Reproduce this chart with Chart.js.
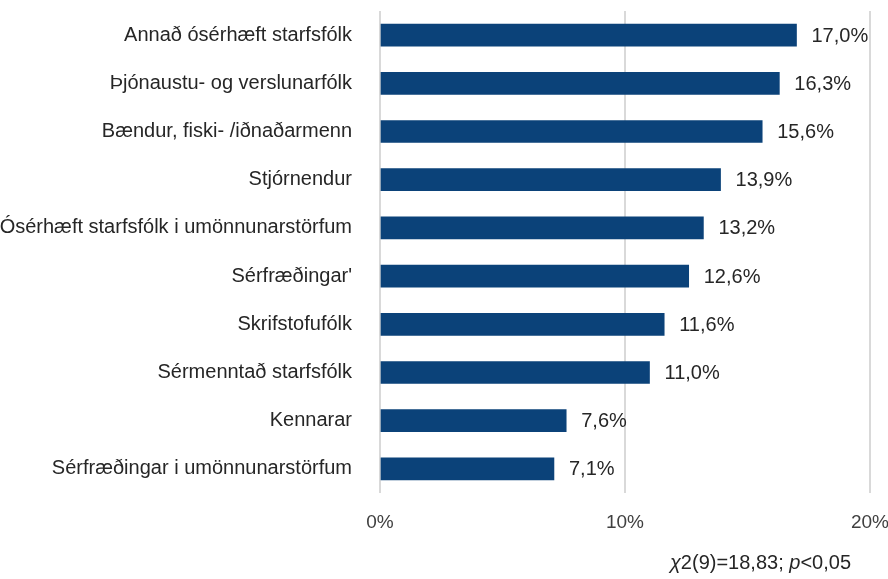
<!DOCTYPE html>
<html>
<head>
<meta charset="utf-8">
<script src="https://cdn.jsdelivr.net/npm/chart.js@4.4.1/dist/chart.umd.min.js"></script>
<style>
  html, body { margin: 0; padding: 0; background: #fff; }
  #wrap { position: relative; width: 888px; height: 579px; }
</style>
</head>
<body>
<div id="wrap"><canvas id="mycanvas"></canvas></div>
<script>
// categories (top to bottom) and shares in %
var occupations = [
    "Annað ósérhæft starfsfólk",
    "Þjónaustu- og verslunarfólk",
    "Bændur, fiski- /iðnaðarmenn",
    "Stjórnendur",
    "Ósérhæft starfsfólk i umönnunarstörfum",
    "Sérfræðingar'",
    "Skrifstofufólk",
    "Sérmenntað starfsfólk",
    "Kennarar",
    "Sérfræðingar i umönnunarstörfum"
];
var share = [17.0, 16.3, 15.6, 13.9, 13.2, 12.6, 11.6, 11.0, 7.6, 7.1];
var xTicks = [0, 10, 20];
var footnote = ["χ", "2(9)=18,83; ", "p", "<0,05"];

var FONT = "'Liberation Sans Narrow', 'Arial Narrow', 'Liberation Sans', Arial, sans-serif";

// draws value labels to the right of each bar, and the chi-square note
var valueLabels = {
    id: "valueLabels",
    afterDatasetsDraw: function(chart) {
        var ctx = chart.ctx;
        var meta = chart.getDatasetMeta(0);
        ctx.save();
        ctx.font = "20px " + FONT;
        ctx.fillStyle = "#262626";
        ctx.textAlign = "left";
        ctx.textBaseline = "middle";
        meta.data.forEach(function(bar, i) {
            var txt = share[i].toFixed(1).replace(".", ",") + "%";
            ctx.fillText(txt, bar.x + 15, bar.y + 1);
        });

        // footnote, right aligned
        var parts = footnote;
        var styles = ["italic ", "", "italic ", ""];
        var total = 0;
        parts.forEach(function(p, i) {
            ctx.font = styles[i] + "20px " + FONT;
            total += ctx.measureText(p).width;
        });
        var x = 851 - total;
        parts.forEach(function(p, i) {
            ctx.font = styles[i] + "20px " + FONT;
            ctx.fillText(p, x, 563);
            x += ctx.measureText(p).width;
        });
        ctx.restore();
    }
};

var ctx = document.getElementById("mycanvas");
var chart = new Chart(ctx, {
    type: "bar",
    data: {
        labels: occupations,
        datasets: [{
            data: share,
            backgroundColor: "#0b4279",
            borderWidth: 0,
            barThickness: 22
        }]
    },
    options: {
        indexAxis: "y",
        responsive: true,
        maintainAspectRatio: false,
        animation: false,
        layout: { padding: { top: 11, right: 18, bottom: 41, left: 0 } },
        plugins: {
            legend: { display: false },
            tooltip: { enabled: false }
        },
        scales: {
            x: {
                min: 0,
                max: 20,
                afterBuildTicks: function(scale) {
                    scale.ticks = xTicks.map(function(v) { return { value: v }; });
                },
                afterFit: function(scale) {
                    scale.height = 45;
                    scale.paddingLeft = 0;
                    scale.paddingRight = 0;
                },
                grid: {
                    color: "#d9d9d9",
                    lineWidth: 2,
                    drawTicks: false
                },
                border: { display: false },
                ticks: {
                    padding: 18,
                    color: "#404040",
                    font: { family: FONT, size: 19 },
                    callback: function(v) { return v + "%"; }
                }
            },
            y: {
                afterFit: function(scale) {
                    scale.width = 380;
                    scale.paddingTop = 0;
                    scale.paddingBottom = 0;
                },
                grid: { display: false },
                border: { display: false },
                ticks: {
                    padding: 20,
                    color: "#262626",
                    font: { family: FONT, size: 20 }
                }
            }
        }
    },
    plugins: [valueLabels]
});
</script>
</body>
</html>
